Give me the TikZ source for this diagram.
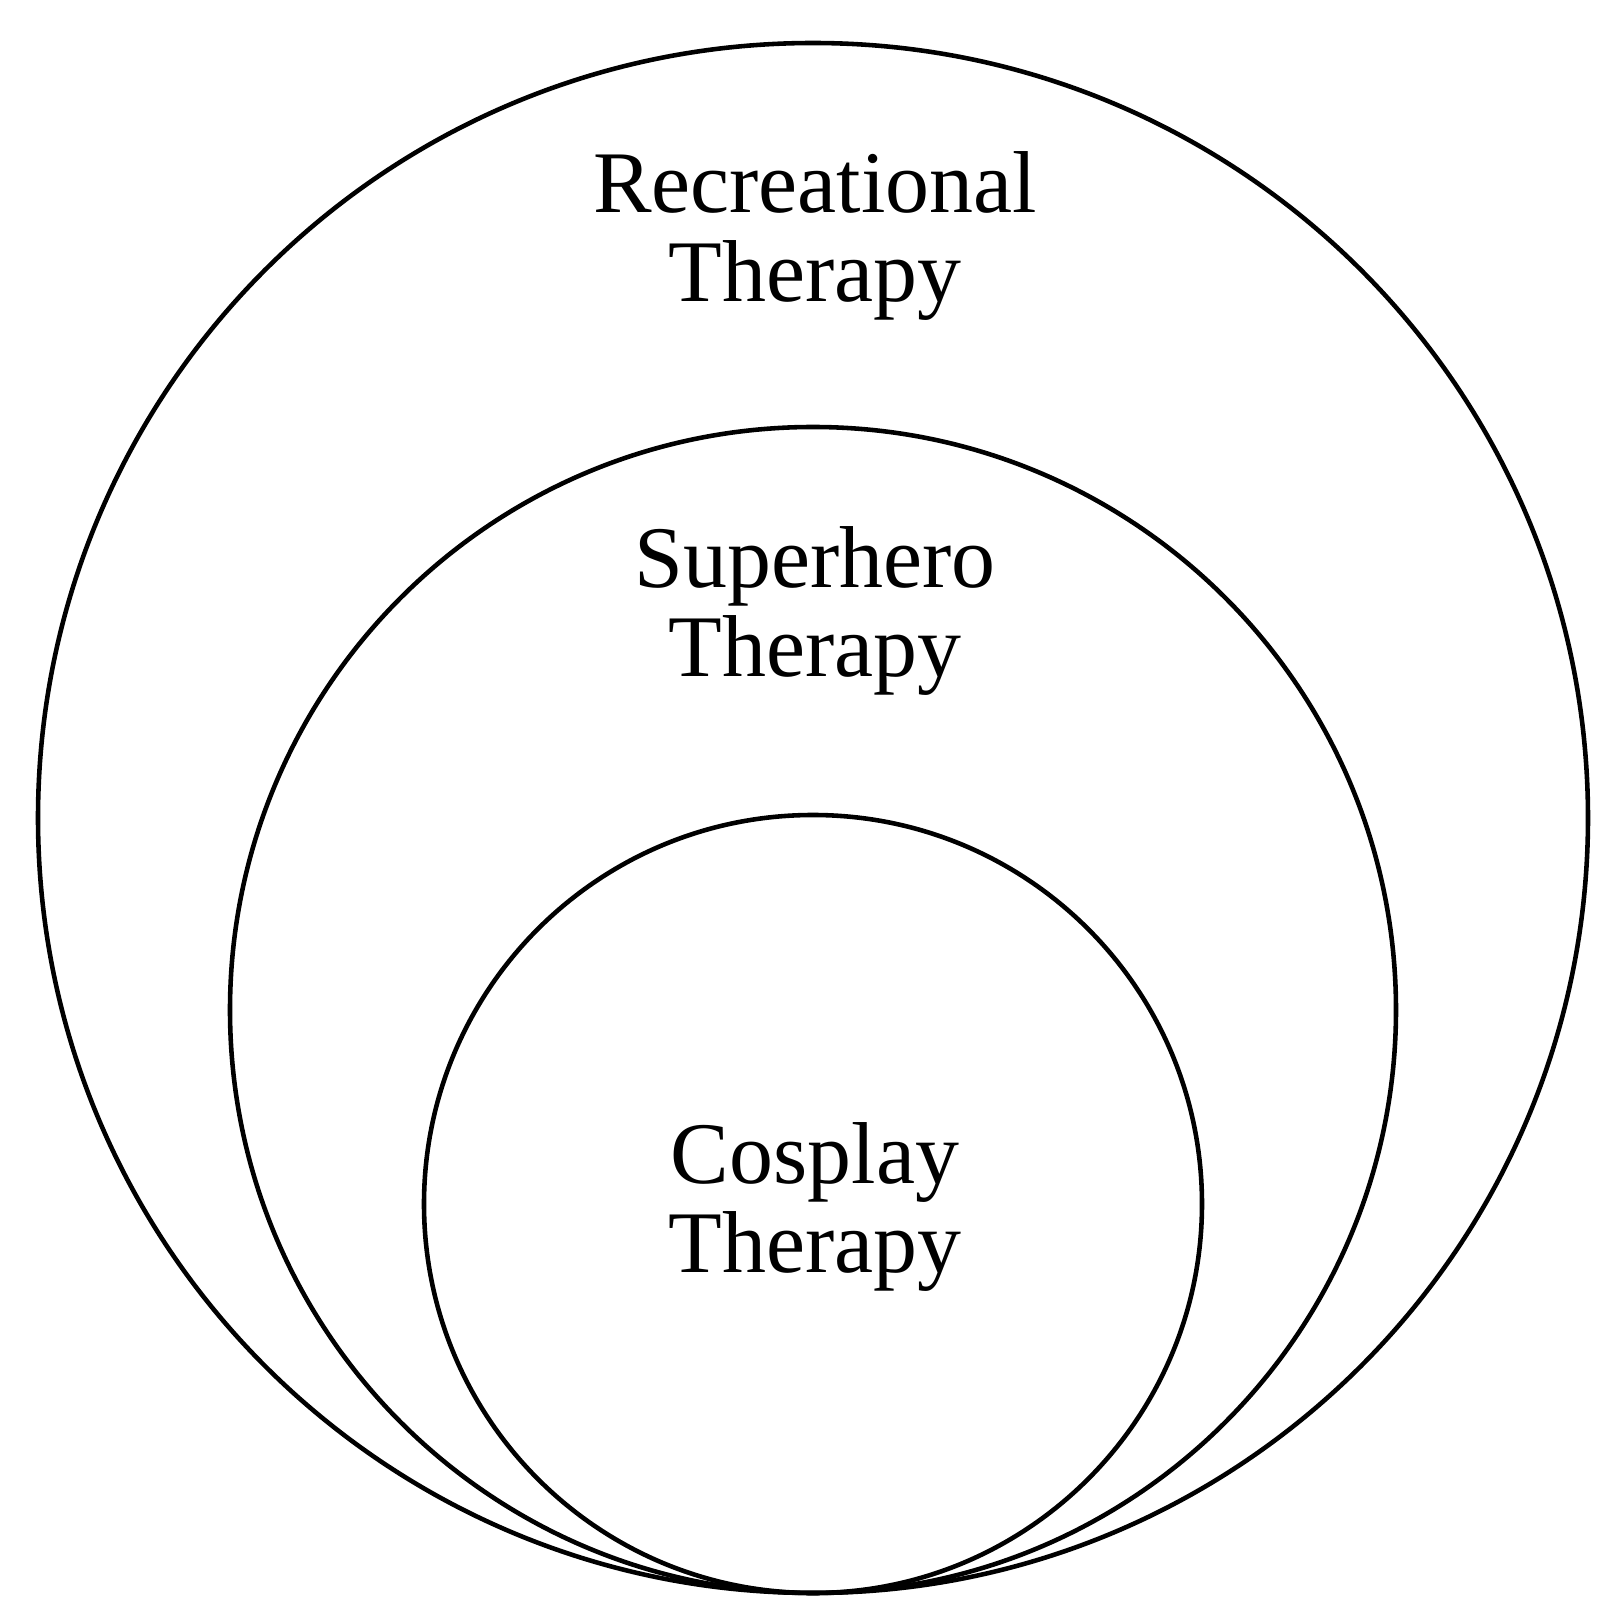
\documentclass[tikz,border=0pt]{standalone}
\usepackage{fontspec}
\setmainfont{Liberation Serif}
\usetikzlibrary{positioning}

\begin{document}
\begin{tikzpicture}[
    ring/.style={circle, draw, line width=1.3pt, inner sep=0pt},
    label/.style={align=center, font=\fontsize{25}{25.5}\selectfont}
]
\useasboundingbox (0,0) rectangle (16.24,-16.17);

% Nested circles touching at the bottom
\node[ring, minimum size=15.5cm] (recreational) at (8.13,-8.18) {};
\node[ring, minimum size=11.66cm] (superhero) at (8.13,-10.10) {};
\node[ring, minimum size=7.78cm] (cosplay) at (8.13,-12.04) {};

% Labels
\node[label] (recreationalText) at (8.15,-2.36) {Recreational\\Therapy};
\node[label] (superheroText) at (8.15,-6.11) {Superhero\\Therapy};
\node[label] (cosplayText) at (8.15,-12.07) {Cosplay\\Therapy};

\end{tikzpicture}
\end{document}
